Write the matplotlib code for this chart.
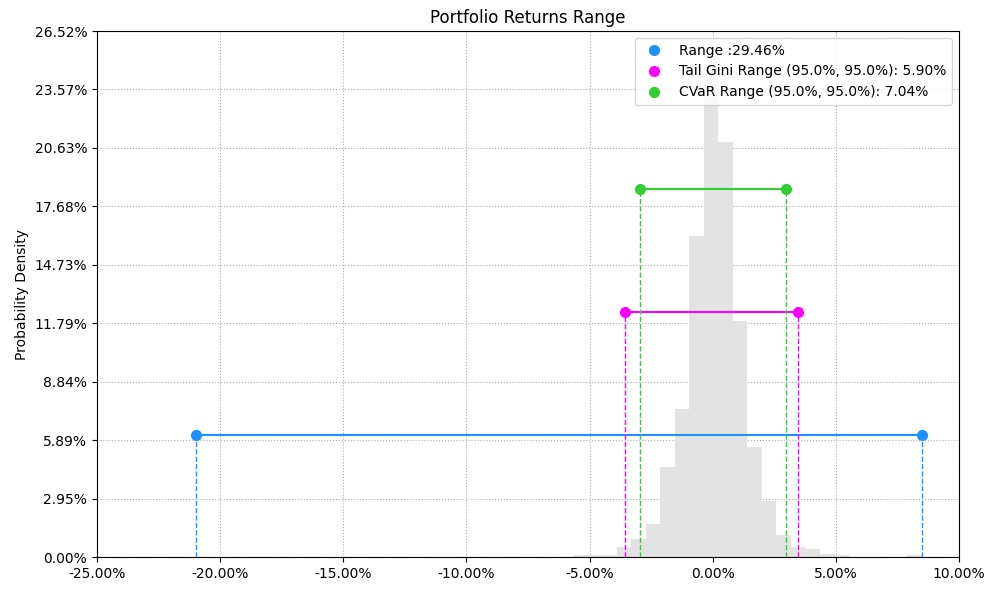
import numpy as np
import matplotlib
matplotlib.use("Agg")
import matplotlib.pyplot as plt
from matplotlib.lines import Line2D
from matplotlib.ticker import FuncFormatter

# histogram: 50 bins between min and max return (in %)
ret_min = -20.98
ret_max = 8.48
n_bins = 50
bin_heights = [0.0] * 26 + [
    0.08, 0.12, 0.12, 0.52, 0.91, 1.66, 4.55, 7.46, 16.2, 24.7,
    20.9, 11.92, 5.56, 2.84, 1.11, 0.52, 0.39, 0.15, 0.10, 0.0,
    0.0, 0.0, 0.0, 0.10,
]

# range markers: (left, right, level)
range_x = [-20.98, 8.48]
range_y = 6.15
gini_x = [-3.55, 3.48]
gini_y = 12.34
cvar_x = [-2.95, 2.96]
cvar_y = 18.54

labels = ["Range :29.46%",
          "Tail Gini Range (95.0%, 95.0%): 5.90%",
          "CVaR Range (95.0%, 95.0%): 7.04%"]
colors = ["dodgerblue", "fuchsia", "limegreen"]

y_max = 26.52
x_ticks = [-25, -20, -15, -10, -5, 0, 5, 10]


def main():
    fig, ax = plt.subplots(figsize=(9.97, 5.92), dpi=100)
    fig.subplots_adjust(left=0.0973, right=0.9619, top=0.9476, bottom=0.0591)

    edges = np.linspace(ret_min, ret_max, n_bins + 1)
    ax.bar(edges[:-1], bin_heights, width=np.diff(edges), align="edge",
           color="#e3e3e3", linewidth=0, zorder=1)

    for xs, y, c in zip([range_x, gini_x, cvar_x], [range_y, gini_y, cvar_y], colors):
        ax.plot(xs, [y, y], color=c, lw=1.5, marker="o", markersize=7, zorder=3)
        for x in xs:
            ax.plot([x, x], [0, y], color=c, lw=1, ls="--", zorder=3)

    ax.set_xlim(-25, 10)
    ax.set_ylim(0, y_max)
    ax.set_xticks(x_ticks)
    ax.set_yticks(np.linspace(0, y_max, 10))
    ax.xaxis.set_major_formatter(FuncFormatter(lambda v, p: "{:.2f}%".format(v)))
    ax.yaxis.set_major_formatter(FuncFormatter(lambda v, p: "{:.2f}%".format(v)))
    ax.grid(True, linestyle=":", color="#aaaaaa", zorder=0)
    ax.set_axisbelow(True)

    ax.set_title("Portfolio Returns Range")
    ax.set_ylabel("Probability Density")

    handles = [Line2D([], [], marker="o", ls="none", color=c, markersize=7)
               for c in colors]
    ax.legend(handles, labels, loc="upper right")

    fig.savefig("out.png", dpi=100)


if __name__ == "__main__":
    main()
